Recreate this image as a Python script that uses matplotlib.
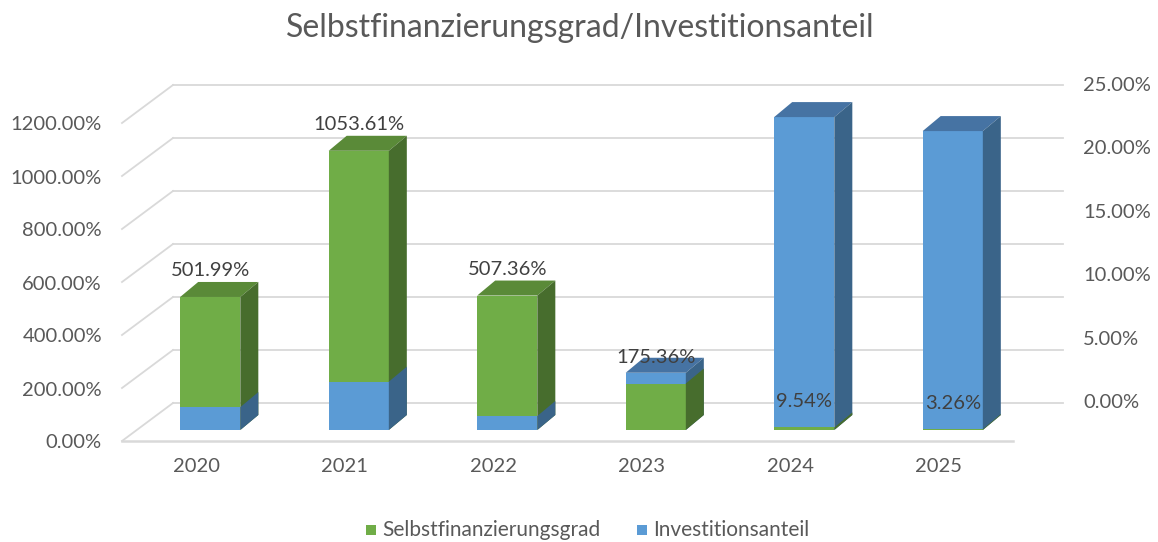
import matplotlib.pyplot as plt
from matplotlib.patches import Polygon, Rectangle

# Daten
jahre = ["2020", "2021", "2022", "2023", "2024", "2025"]
selbstfin = [501.99, 1053.61, 507.36, 175.36, 9.54, 3.26]      # linke Achse, %
invest = [1.8, 3.8, 1.1, 4.5, 24.6, 23.5]                       # rechte Achse, %
links_ticks = [0, 200, 400, 600, 800, 1000, 1200]
rechts_ticks = [0, 5, 10, 15, 20, 25]

plt.rcParams["font.family"] = ["Lato", "DejaVu Sans"]
TXT = "#595959"
FS = 14.5

fig = plt.figure(figsize=(11.58, 5.42), dpi=100)
W, H = 1158, 542
# Achse = Ebene der Säulenvorderseiten
ax_l, ax_r, ax_b, ax_t = 136, 1027, 430, 112
ax = fig.add_axes([ax_l / W, (H - ax_b) / H, (ax_r - ax_l) / W, (ax_b - ax_t) / H])
ax.set_xlim(-0.5, 5.5)
ax.set_ylim(0, 1200)
ax.axis("off")

# rechte Achse als zweite Skala
ax2 = ax.twinx()
ax2.set_ylim(0, 25)
ax2.axis("off")

px_x = (ax_r - ax_l) / 6          # Pixel pro Kategorie
px_y = (ax_b - ax_t) / 1200       # Pixel pro % (links)
px_y2 = (ax_b - ax_t) / 25        # Pixel pro % (rechts)


def dx(p):
    return p / px_x


def dy(p, rechts=False):
    return p / (px_y2 if rechts else px_y)


FRONT = (-14, -11)   # Bodenvorderkante
BACK = (37, 27)      # Rückwand
TIEFE = (18, 15)     # Säulentiefe
grid_c = "#d9d9d9"
x_end = 5.5 + dx(36)

# Gitterlinien (Seitenwand + Rückwand)
for v in links_ticks:
    ax.plot([-0.5 + dx(FRONT[0]), -0.5 + dx(BACK[0])],
            [v + dy(FRONT[1]), v + dy(BACK[1])], color=grid_c, lw=1.3, zorder=1,
            clip_on=False)
    ax.plot([-0.5 + dx(BACK[0]), x_end],
            [v + dy(BACK[1]), v + dy(BACK[1])], color=grid_c, lw=1.3, zorder=1,
            clip_on=False)
    ax.text(-0.5 + dx(FRONT[0] - 20), v + dy(FRONT[1] - 2), f"{v:.2f}%",
            ha="right", va="center", fontsize=FS, color=TXT)
# Bodenvorderkante
ax.plot([-0.5 + dx(FRONT[0]), 5.5 + dx(FRONT[0])], [dy(FRONT[1])] * 2,
        color=grid_c, lw=1.8, zorder=1, clip_on=False)

for r in rechts_ticks:
    ax2.text(x_end + dx(20), r + dy(BACK[1], True), f"{r:.2f}%",
             ha="left", va="center", fontsize=FS, color=TXT)

breite = 0.405


def saeule(x, h, farben, z, rechts=False, mit_top=True):
    front, top, side = farben
    tr = (ax2 if rechts else ax).transData
    x0, x1 = x - breite / 2, x + breite / 2
    ddx, ddy = dx(TIEFE[0]), dy(TIEFE[1], rechts)
    ax.add_patch(Rectangle((x0, 0), breite, h, facecolor=front, edgecolor="none",
                           zorder=z, transform=tr, clip_on=False))
    if mit_top:
        ax.add_patch(Polygon([(x0, h), (x1, h), (x1 + ddx, h + ddy), (x0 + ddx, h + ddy)],
                             facecolor=top, edgecolor="none", zorder=z, transform=tr,
                             clip_on=False))
    ax.add_patch(Polygon([(x1, 0), (x1 + ddx, ddy), (x1 + ddx, h + ddy), (x1, h)],
                         facecolor=side, edgecolor="none", zorder=z, transform=tr,
                         clip_on=False))


gruen = ("#70ad47", "#5a8a38", "#476d2d")
blau = ("#5b9bd5", "#4673a3", "#3a6489")

for i, (g, b) in enumerate(zip(selbstfin, invest)):
    # kürzere Säule liegt vorne, ihre Deckfläche steckt in der höheren
    g_kurz = g * px_y < b * px_y2
    saeule(i, g, gruen, 4 if g_kurz else 3, mit_top=not g_kurz)
    saeule(i, b, blau, 3 if g_kurz else 4, rechts=True, mit_top=g_kurz)
    ax.text(i, g + dy(TIEFE[1] + 11), f"{g:.2f}%", ha="center", va="center",
            fontsize=FS, color="#404040", zorder=10)
    ax.text(i + dx(FRONT[0]), dy(FRONT[1] - 26), jahre[i], ha="center", va="center",
            fontsize=FS, color=TXT)

# Titel
fig.text(580 / W, 1 - 28 / H, "Selbstfinanzierungsgrad/Investitionsanteil",
         ha="center", va="center", fontsize=23, color=TXT)

# Legende
fig.patches.append(Rectangle((366 / W, 1 - 535 / H), 10 / W, 10 / H,
                             facecolor=gruen[0], transform=fig.transFigure, figure=fig))
fig.text(382 / W, 1 - 530 / H, "Selbstfinanzierungsgrad", ha="left", va="center",
         fontsize=15, color=TXT)
fig.patches.append(Rectangle((637 / W, 1 - 535 / H), 10 / W, 10 / H,
                             facecolor=blau[0], transform=fig.transFigure, figure=fig))
fig.text(653 / W, 1 - 530 / H, "Investitionsanteil", ha="left", va="center",
         fontsize=15, color=TXT)

fig.savefig("out.png", dpi=100, facecolor="white")
